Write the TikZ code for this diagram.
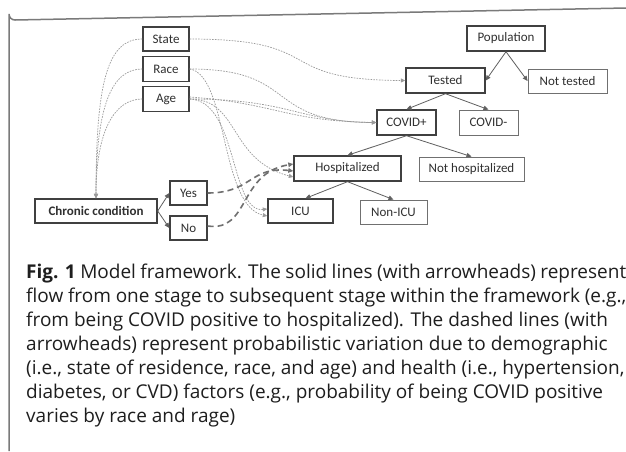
\documentclass[tikz,border=0pt]{standalone}
\usepackage{fontspec}
\setmainfont{Carlito}
\newfontfamily\capfont{Open Sans}
\usetikzlibrary{arrows.meta}
\definecolor{boxdark}{HTML}{404040}
\definecolor{boxlight}{HTML}{707070}
\definecolor{txt}{HTML}{303030}
\definecolor{solidarr}{HTML}{606060}
\definecolor{dotc}{HTML}{9A9A9A}
\definecolor{dashc}{HTML}{707070}
\definecolor{framec}{HTML}{7A7A7A}
\definecolor{captxt}{HTML}{1E1E1E}
\begin{document}
\begin{tikzpicture}[x=1pt,y=-1pt,
  stage/.style={draw=boxdark, line width=1.4pt, inner sep=0pt, text=txt, font=\fontsize{13}{15}\selectfont},
  minor/.style={draw=boxlight, line width=0.8pt, inner sep=0pt, text=txt, font=\fontsize{13}{15}\selectfont},
  flow/.style={draw=solidarr, line width=0.8pt, -{Triangle[length=5pt,width=4.5pt]}},
  factor/.style={draw=dotc, line width=0.7pt, dash pattern=on 1.6pt off 1.2pt, -{Triangle[length=4.5pt,width=4pt]}},
  health/.style={draw=dashc, line width=1.6pt, dash pattern=on 6pt off 4pt, -{Triangle[length=5pt,width=4.5pt]}}
]
\useasboundingbox (0,0) rectangle (626,451);
\fill[white] (0,0) rectangle (626,451);
% frame
\draw[framec, line width=1.5pt] (9,451) -- (9,14) arc[start angle=180, end angle=90, radius=6] -- (626,8);

% factor boxes
\node[stage, minimum width=46pt, minimum height=24pt] (state) at (166,39) {State};
\node[stage, minimum width=46pt, minimum height=25pt] (race) at (166,69) {Race};
\node[stage, minimum width=46pt, minimum height=25pt] (age) at (166,99) {Age};
\node[stage, minimum width=122pt, minimum height=24pt] (chronic) at (96,211) {\bfseries Chronic condition};
\node[stage, minimum width=37pt, minimum height=24pt] (yes) at (188.5,193) {Yes};
\node[stage, minimum width=37pt, minimum height=24pt] (no) at (188.5,228) {No};

% stage boxes
\node[stage, minimum width=78pt, minimum height=25pt] (population) at (506,38.5) {Population};
\node[stage, minimum width=79pt, minimum height=25pt] (tested) at (445.5,80.5) {Tested};
\node[minor, minimum width=79pt, minimum height=24pt] (nottested) at (567.5,81) {Not tested};
\node[stage, minimum width=59pt, minimum height=25pt] (covidpos) at (406.5,122.5) {COVID+};
\node[minor, minimum width=59pt, minimum height=25pt] (covidneg) at (488.5,122.5) {COVID-};
\node[stage, minimum width=107pt, minimum height=25pt] (hosp) at (347.5,168.5) {Hospitalized};
\node[minor, minimum width=105pt, minimum height=24pt] (nothosp) at (471.5,169) {Not hospitalized};
\node[stage, minimum width=65pt, minimum height=24pt] (icu) at (300.5,211) {ICU};
\node[minor, minimum width=67pt, minimum height=24pt] (nonicu) at (393.5,212) {Non-ICU};

% solid flow arrows
\draw[flow] (population.south) -- (tested.east);
\draw[flow] (population.south) -- (nottested.west);
\draw[flow] (tested.south) -- (covidpos.north);
\draw[flow] (tested.south) -- (covidneg.north);
\draw[flow] (covidpos.south) -- (hosp.north);
\draw[flow] (covidpos.south) -- (nothosp.north);
\draw[flow] (hosp.south) -- ([xshift=5pt]icu.north);
\draw[flow] (hosp.south) -- (nonicu.north);
\draw[flow] (chronic.east) -- (yes.west);
\draw[flow] (chronic.east) -- (no.west);

% dotted factor arrows
\draw[factor] (state.west) .. controls (108,39) and (96,80) .. (chronic.north);
\draw[factor] (race.west) .. controls (112,69) and (96,105) .. (chronic.north);
\draw[factor] (age.west) .. controls (115,99) and (96,130) .. (chronic.north);
\draw[factor] (state.east) .. controls (330,39) and (270,80) .. (tested.west);
\draw[factor] (race.east) .. controls (300,69) and (262,122) .. (covidpos.west);
\draw[factor] (age.east) .. controls (290,99) and (300,122) .. (covidpos.west);
\draw[factor] ([yshift=2pt]age.east) .. controls (275,103) and (285,121) .. (covidpos.west);
\draw[factor] (age.east) .. controls (240,99) and (228,160) .. ([yshift=-8.5pt]hosp.west);
\draw[factor] (race.east) .. controls (228,75) and (220,206) .. ([yshift=-5pt]icu.west);
\draw[factor] (age.east) .. controls (238,101) and (230,213) .. ([yshift=2pt]icu.west);

% dashed health arrows
\draw[health] (yes.east) .. controls (252,193) and (250,166) .. ([yshift=-2.5pt]hosp.west);
\draw[health] ([yshift=2pt]no.east) .. controls (250,232) and (238,173) .. ([yshift=4.5pt]hosp.west);

% caption
\node[anchor=base west, inner sep=0pt, text=captxt] (caption) at (26,278)
 {\parbox[t]{600pt}{\capfont\fontsize{19}{24}\selectfont\raggedright
 \textbf{Fig. 1} Model framework. The solid lines (with arrowheads) represent\\
 flow from one stage to subsequent stage within the framework (e.g.,\\
 from being COVID positive to hospitalized). The dashed lines (with\\
 arrowheads) represent probabilistic variation due to demographic\\
 (i.e., state of residence, race, and age) and health (i.e., hypertension,\\
 diabetes, or CVD) factors (e.g., probability of being COVID positive\\
 varies by race and rage)}};
\end{tikzpicture}
\end{document}
